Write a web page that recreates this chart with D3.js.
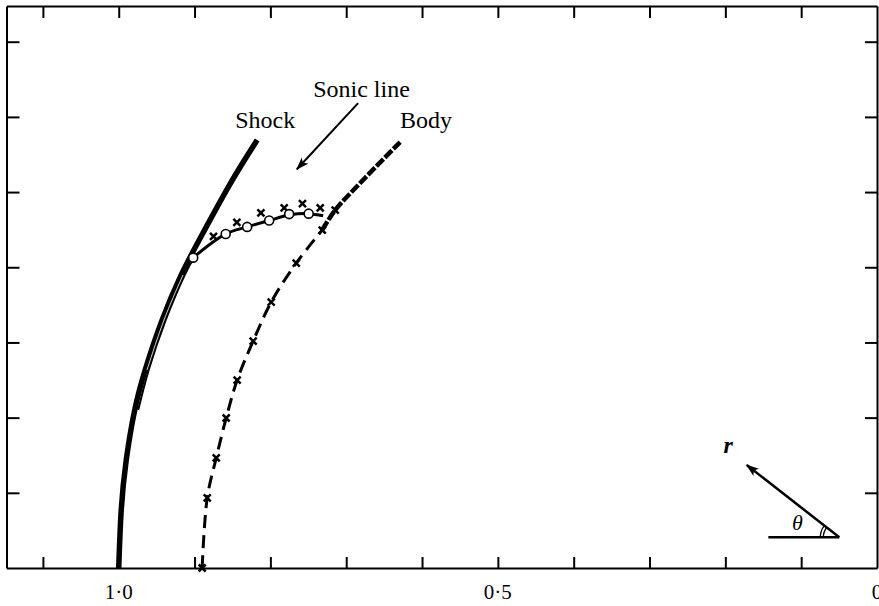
<!DOCTYPE html>
<html>
<head>
<meta charset="utf-8">
<script src="https://cdn.jsdelivr.net/npm/d3@7"></script>
<style>
  body { margin: 0; background: #fff; }
  svg { display: block; }
  text { font-family: "Liberation Serif", "Times New Roman", serif; fill: #000; }
</style>
</head>
<body>
<svg id="chart" width="879" height="606"></svg>
<script>
// curves, in (x, y) data units
var shock = [[1.000, 0], [0.9967, 0.0771], [0.9901, 0.1436], [0.9789, 0.2101], [0.9651, 0.2633],
             [0.9427, 0.3298], [0.9176, 0.3897], [0.8939, 0.4362], [0.8540, 0.5093], [0.8174, 0.5692]];
// the shock is drawn double between these heights
var shockInner = [[0.9789, 0.2101], [0.9651, 0.2633], [0.9427, 0.3298], [0.9176, 0.3897], [0.9050, 0.4130]];
var body = [[0.890, 0], [0.8833, 0.0932], [0.8714, 0.1464], [0.8583, 0.1995], [0.8438, 0.2500],
            [0.8227, 0.3019], [0.7989, 0.3537], [0.7659, 0.4056], [0.7316, 0.4495]];
var bodyUpper = [[0.7316, 0.4495], [0.7145, 0.4761], [0.6816, 0.5120], [0.6289, 0.5665]];
var bodyMarks = [[0.890, 0], [0.8833, 0.0932], [0.8714, 0.1464], [0.8583, 0.1995], [0.8438, 0.2500],
                 [0.8227, 0.3019], [0.7989, 0.3537], [0.7659, 0.4056], [0.7316, 0.4495], [0.7145, 0.4761]];
var sonic = [[0.9018, 0.4128], [0.8589, 0.4443], [0.8306, 0.4537], [0.8016, 0.4621],
             [0.7752, 0.4695], [0.7495, 0.4713], [0.7304, 0.4684]];
var sonicCircles = [[0.9018, 0.4128], [0.8589, 0.4443], [0.8306, 0.4537], [0.8016, 0.4621],
                    [0.7752, 0.4707], [0.7495, 0.4713]];
var sonicCrosses = [[0.8750, 0.4412], [0.8442, 0.4598], [0.8125, 0.4723], [0.7818, 0.4790],
                    [0.7577, 0.4847], [0.7343, 0.4790]];

var tickValues = [1.1, 1.0, 0.9, 0.8, 0.7, 0.6, 0.5, 0.4, 0.3, 0.2, 0.1];
var yTickValues = [0.1, 0.2, 0.3, 0.4, 0.5, 0.6, 0.7];
var tickLabels = [[1.0, "1·0"], [0.5, "0·5"], [0, "0"]];

var labels = [["Sonic line", 0.7436, 0.6270], ["Shock", 0.8464, 0.5848], ["Body", 0.6289, 0.5848]];
var sonicArrow = [[0.6843, 0.6184], [0.7651, 0.5303]];

// r, theta sketch in the corner
var insetOrigin = [0.0497, 0.0408];
var insetTip = [0.1718, 0.1370];
var insetBase = [0.1433, 0.0408];

var plotLeft = 6.5, plotRight = 877, plotTop = 6, plotBottom = 568;

var svg = d3.select("#chart");

var x = d3.scaleLinear().domain([1.148, 0]).range([plotLeft, plotRight]);
var y = d3.scaleLinear().domain([0, 0.7475]).range([plotBottom, plotTop]);

var defs = svg.append("defs");
defs.append("marker")
    .attr("id", "head")
    .attr("viewBox", "0 -5 13 10")
    .attr("refX", 12)
    .attr("refY", 0)
    .attr("markerWidth", 13)
    .attr("markerHeight", 10)
    .attr("markerUnits", "userSpaceOnUse")
    .attr("orient", "auto")
    .append("path")
    .attr("d", "M0,-4.5L13,0L0,4.5L3,0Z")
    .attr("fill", "#000");

// frame and ticks
function styleAxis(g) {
    g.selectAll("path.domain").attr("stroke", "#000").attr("stroke-width", 2);
    g.selectAll(".tick line").attr("stroke", "#000").attr("stroke-width", 2);
    g.selectAll(".tick text").remove();
}

svg.append("g")
    .attr("transform", "translate(0," + plotBottom + ")")
    .call(d3.axisBottom(x).tickValues(tickValues).tickSizeInner(-11).tickSizeOuter(0))
    .call(styleAxis);
svg.append("g")
    .attr("transform", "translate(0," + plotTop + ")")
    .call(d3.axisTop(x).tickValues(tickValues).tickSizeInner(-12).tickSizeOuter(0))
    .call(styleAxis);
svg.append("g")
    .attr("transform", "translate(" + plotLeft + ",0)")
    .call(d3.axisLeft(y).tickValues(yTickValues).tickSizeInner(-13).tickSizeOuter(0))
    .call(styleAxis);
svg.append("g")
    .attr("transform", "translate(" + plotRight + ",0)")
    .call(d3.axisRight(y).tickValues(yTickValues).tickSizeInner(-12).tickSizeOuter(0))
    .call(styleAxis);

svg.selectAll(".xlabel")
    .data(tickLabels)
    .enter().append("text")
    .attr("class", "xlabel")
    .attr("x", function(d) { return x(d[0]); })
    .attr("y", 599)
    .attr("text-anchor", "middle")
    .attr("font-size", 21)
    .text(function(d) { return d[1]; });

var line = d3.line()
    .x(function(d) { return x(d[0]); })
    .y(function(d) { return y(d[1]); })
    .curve(d3.curveCatmullRom);

var smooth = d3.line()
    .x(function(d) { return x(d[0]); })
    .y(function(d) { return y(d[1]); })
    .curve(d3.curveNatural);

// shock
svg.append("path")
    .attr("d", smooth(shock))
    .attr("fill", "none")
    .attr("stroke", "#000")
    .attr("stroke-width", 5.5);
svg.append("path")
    .attr("d", smooth(shockInner))
    .attr("transform", "translate(3.5,0)")
    .attr("fill", "none")
    .attr("stroke", "#000")
    .attr("stroke-width", 2);
svg.append("path")
    .attr("d", smooth(shockInner.slice(1, 4)))
    .attr("transform", "translate(1.8,0)")
    .attr("fill", "none")
    .attr("stroke", "#fff")
    .attr("stroke-width", 0.8);

// body
svg.append("path")
    .attr("d", line(body))
    .attr("fill", "none")
    .attr("stroke", "#000")
    .attr("stroke-width", 3)
    .attr("stroke-dasharray", "13,7");
svg.append("path")
    .attr("d", line(bodyUpper))
    .attr("fill", "none")
    .attr("stroke", "#000")
    .attr("stroke-width", 4.5)
    .attr("stroke-dasharray", "10,2");

// sonic line
svg.append("path")
    .attr("d", line(sonic))
    .attr("fill", "none")
    .attr("stroke", "#000")
    .attr("stroke-width", 3);

var cross = "M-3.5,-3.5L3.5,3.5M3.5,-3.5L-3.5,3.5";
svg.selectAll(".bx")
    .data(bodyMarks.concat(sonicCrosses))
    .enter().append("path")
    .attr("class", "bx")
    .attr("transform", function(d) { return "translate(" + x(d[0]) + "," + y(d[1]) + ")"; })
    .attr("d", cross)
    .attr("stroke", "#000")
    .attr("stroke-width", 2.5)
    .attr("fill", "none");

svg.selectAll(".sc")
    .data(sonicCircles)
    .enter().append("circle")
    .attr("class", "sc")
    .attr("cx", function(d) { return x(d[0]); })
    .attr("cy", function(d) { return y(d[1]); })
    .attr("r", 4.5)
    .attr("fill", "#fff")
    .attr("stroke", "#000")
    .attr("stroke-width", 1.6);

// labels
svg.selectAll(".lbl")
    .data(labels)
    .enter().append("text")
    .attr("class", "lbl")
    .attr("x", function(d) { return x(d[1]); })
    .attr("y", function(d) { return y(d[2]); })
    .attr("font-size", 24)
    .text(function(d) { return d[0]; });

svg.append("line")
    .attr("x1", x(sonicArrow[0][0])).attr("y1", y(sonicArrow[0][1]))
    .attr("x2", x(sonicArrow[1][0])).attr("y2", y(sonicArrow[1][1]))
    .attr("stroke", "#000")
    .attr("stroke-width", 2)
    .attr("marker-end", "url(#head)");

// r / theta sketch
var ox = x(insetOrigin[0]), oy = y(insetOrigin[1]);
svg.append("line")
    .attr("x1", x(insetBase[0])).attr("y1", oy)
    .attr("x2", ox).attr("y2", oy)
    .attr("stroke", "#000").attr("stroke-width", 2.5);
svg.append("line")
    .attr("x1", ox).attr("y1", oy)
    .attr("x2", x(insetTip[0])).attr("y2", y(insetTip[1]))
    .attr("stroke", "#000").attr("stroke-width", 2.5)
    .attr("marker-end", "url(#head)");
var ang = Math.atan2(oy - y(insetTip[1]), ox - x(insetTip[0]));
[16, 19].forEach(function(rad) {
    var arc = d3.arc()
        .innerRadius(rad).outerRadius(rad)
        .startAngle(-Math.PI / 2)
        .endAngle(-Math.PI / 2 + ang);
    svg.append("path")
        .attr("transform", "translate(" + ox + "," + oy + ")")
        .attr("d", arc())
        .attr("fill", "none")
        .attr("stroke", "#000")
        .attr("stroke-width", 1.3);
});
svg.append("text")
    .attr("x", x(0.2025)).attr("y", y(0.1526))
    .attr("font-size", 24).attr("font-style", "italic").attr("font-weight", "bold")
    .text("r");
svg.append("text")
    .attr("x", x(0.1120)).attr("y", y(0.0505))
    .attr("font-size", 22).attr("font-style", "italic")
    .text("θ");
</script>
</body>
</html>
